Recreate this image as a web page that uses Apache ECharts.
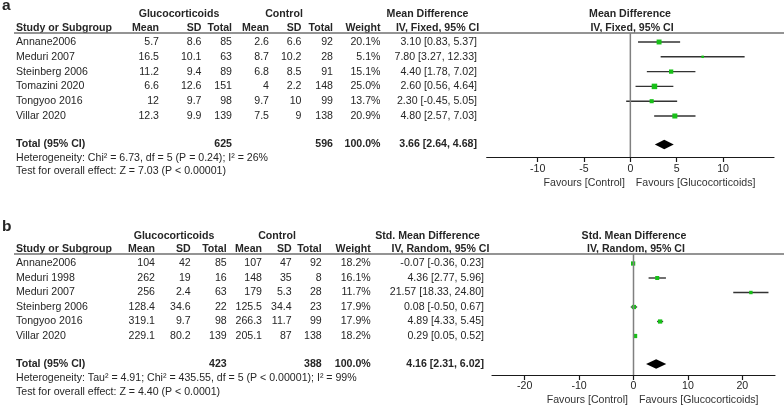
<!DOCTYPE html>
<html><head><meta charset="utf-8">
<script src="https://cdn.jsdelivr.net/npm/echarts@6/dist/echarts.min.js"></script>
<style>html,body{margin:0;padding:0;background:#fff}#c{width:784px;height:405px}</style>
</head><body><div id="c"></div>
<script>
// ================= DATA: panel a =================
const studiesA  = ['Annane2006','Meduri 2007','Steinberg 2006','Tomazini 2020','Tongyoo 2016','Villar 2020'];
const gcMeanA   = [5.7, 16.5, 11.2, 6.6, 12, 12.3];
const gcSdA     = [8.6, 10.1, 9.4, 12.6, 9.7, 9.9];
const gcTotalA  = [85, 63, 89, 151, 98, 139];
const ctMeanA   = [2.6, 8.7, 6.8, 4, 9.7, 7.5];
const ctSdA     = [6.6, 10.2, 8.5, 2.2, 10, 9];
const ctTotalA  = [92, 28, 91, 148, 99, 138];
const weightA   = [20.1, 5.1, 15.1, 25.0, 13.7, 20.9];
const estA      = [3.10, 7.80, 4.40, 2.60, 2.30, 4.80];
const loA       = [0.83, 3.27, 1.78, 0.56, -0.45, 2.57];
const hiA       = [5.37, 12.33, 7.02, 4.64, 5.05, 7.03];
const totalsA   = [625, 596, 100.0];          // gc total, control total, weight
const pooledA   = [3.66, 2.64, 4.68];         // est, lo, hi
const ticksA    = [-10, -5, 0, 5, 10];
const notesA    = ['Heterogeneity: Chi\u00B2 = 6.73, df = 5 (P = 0.24); I\u00B2 = 26%',
                   'Test for overall effect: Z = 7.03 (P < 0.00001)'];
const headA     = ['Mean Difference', 'IV, Fixed, 95% CI'];

// ================= DATA: panel b =================
const studiesB  = ['Annane2006','Meduri 1998','Meduri 2007','Steinberg 2006','Tongyoo 2016','Villar 2020'];
const gcMeanB   = [104, 262, 256, 128.4, 319.1, 229.1];
const gcSdB     = [42, 19, 2.4, 34.6, 9.7, 80.2];
const gcTotalB  = [85, 16, 63, 22, 98, 139];
const ctMeanB   = [107, 148, 179, 125.5, 266.3, 205.1];
const ctSdB     = [47, 35, 5.3, 34.4, 11.7, 87];
const ctTotalB  = [92, 8, 28, 23, 99, 138];
const weightB   = [18.2, 16.1, 11.7, 17.9, 17.9, 18.2];
const estB      = [-0.07, 4.36, 21.57, 0.08, 4.89, 0.29];
const loB       = [-0.36, 2.77, 18.33, -0.50, 4.33, 0.05];
const hiB       = [0.23, 5.96, 24.80, 0.67, 5.45, 0.52];
const totalsB   = [423, 388, 100.0];
const pooledB   = [4.16, 2.31, 6.02];
const ticksB    = [-20, -10, 0, 10, 20];
const notesB    = ['Heterogeneity: Tau\u00B2 = 4.91; Chi\u00B2 = 435.55, df = 5 (P < 0.00001); I\u00B2 = 99%',
                   'Test for overall effect: Z = 4.40 (P < 0.0001)'];
const headB     = ['Std. Mean Difference', 'IV, Random, 95% CI'];

// ================= LAYOUT / STYLE =================
const FONT = "'Liberation Sans', Arial, Helvetica, sans-serif";
const FS = 10.6;
const TXT = '#262626';
const GREEN = '#18c018';

const LAYOUT_A = {letter:'a', row0:42, rowH:14.8, letterY:6, h1Y:14, h2Y:28, lineY:33, totalY:144.5, hetY:158, testY:171.5,
  axisY:157, favY:183, labelMargin:7, plotLeft:486.7, plotWidth:287.3, xMin:-15.5, xMax:15.5, k:1.1, lineX0:14,
  cols:{name:16, m1:159, s1:201.5, t1:232, m2:269, s2:301.5, t2:333, w:380.5, est:477},
  h1:{gc:179, ct:284, est:427.5, plot:630}, h2:{est:437.5, plot:632}};
const LAYOUT_B = {letter:'b', row0:263.5, rowH:14.5, letterY:227, h1Y:236, h2Y:249.5, lineY:254, totalY:364, hetY:378, testY:392,
  axisY:375, favY:400, labelMargin:6, plotLeft:492, plotWidth:283, xMin:-26, xMax:26, k:1.0, lineX0:14,
  cols:{name:16, m1:155, s1:190.7, t1:226.7, m2:262, s2:291.7, t2:321.7, w:370.7, est:484},
  h1:{gc:174, ct:277, est:427.6, plot:634}, h2:{est:440.5, plot:636}};

const grids = [], xAxes = [], yAxes = [], series = [];

function panel(D, L, gi) {
  const toV = px => (px - L.row0) / L.rowH;
  const texts = [];
  const T = (x, v, t, a, bold, size) => texts.push({x, v, t: String(t), a: a || 'right', bold: !!bold, size: size || FS});
  const C = L.cols;
  // letter
  T(2, toV(L.letterY), L.letter, 'left', true, 15.5);
  // header row 1
  T(L.h1.gc, toV(L.h1Y), 'Glucocorticoids', 'center', true);
  T(L.h1.ct, toV(L.h1Y), 'Control', 'center', true);
  T(L.h1.est, toV(L.h1Y), D.head[0], 'center', true);
  T(L.h1.plot, toV(L.h1Y), D.head[0], 'center', true);
  // header row 2
  const v2 = toV(L.h2Y);
  T(C.name, v2, 'Study or Subgroup', 'left', true);
  T(C.m1, v2, 'Mean', 'right', true); T(C.s1, v2, 'SD', 'right', true); T(C.t1, v2, 'Total', 'right', true);
  T(C.m2, v2, 'Mean', 'right', true); T(C.s2, v2, 'SD', 'right', true); T(C.t2, v2, 'Total', 'right', true);
  T(C.w, v2, 'Weight', 'right', true);
  T(L.h2.est, v2, D.head[1], 'center', true);
  T(L.h2.plot, v2, D.head[1], 'center', true);
  // study rows
  D.studies.forEach((s, i) => {
    T(C.name, i, s, 'left');
    T(C.m1, i, D.gcMean[i]); T(C.s1, i, D.gcSd[i]); T(C.t1, i, D.gcTotal[i]);
    T(C.m2, i, D.ctMean[i]); T(C.s2, i, D.ctSd[i]); T(C.t2, i, D.ctTotal[i]);
    T(C.w, i, D.weight[i].toFixed(1) + '%');
    T(C.est, i, D.est[i].toFixed(2) + ' [' + D.lo[i].toFixed(2) + ', ' + D.hi[i].toFixed(2) + ']');
  });
  // total
  const vt = toV(L.totalY);
  T(C.name, vt, 'Total (95% CI)', 'left', true);
  T(C.t1, vt, D.totals[0], 'right', true);
  T(C.t2, vt, D.totals[1], 'right', true);
  T(C.w, vt, D.totals[2].toFixed(1) + '%', 'right', true);
  T(C.est, vt, D.pooled[0].toFixed(2) + ' [' + D.pooled[1].toFixed(2) + ', ' + D.pooled[2].toFixed(2) + ']', 'right', true);
  T(C.name, toV(L.hetY), D.notes[0], 'left');
  T(C.name, toV(L.testY), D.notes[1], 'left');

  // grids & axes
  grids.push({left: 0, top: 0, width: 784, height: 405});
  grids.push({left: L.plotLeft, top: L.lineY, width: L.plotWidth, height: L.axisY - L.lineY});
  xAxes.push({gridIndex: gi, type: 'value', min: 0, max: 784, show: false});
  yAxes.push({gridIndex: gi, type: 'value', inverse: true, min: toV(0), max: toV(405), show: false});
  xAxes.push({gridIndex: gi + 1, type: 'value', min: L.xMin, max: L.xMax, position: 'bottom',
    axisLine: {show: true, onZero: false, lineStyle: {color: '#1a1a1a', width: 1.2}},
    axisTick: {show: true, customValues: D.ticks, length: 5, lineStyle: {color: '#1a1a1a', width: 1.2}},
    axisLabel: {show: true, customValues: D.ticks, color: TXT, fontSize: FS, fontFamily: FONT, margin: L.labelMargin},
    splitLine: {show: false}});
  yAxes.push({gridIndex: gi + 1, type: 'value', inverse: true, min: toV(L.lineY), max: toV(L.axisY), show: false});

  // text series
  series.push({type: 'custom', xAxisIndex: gi, yAxisIndex: gi, silent: true, clip: false,
    data: texts.map(o => [o.x, o.v]),
    renderItem: (params, api) => {
      const o = texts[params.dataIndex];
      const p = api.coord([o.x, o.v]);
      return {type: 'text', x: p[0], y: p[1], style: {text: o.t, align: o.a, verticalAlign: 'middle',
        fontSize: o.size, fontWeight: o.bold ? 'bold' : 'normal', fontFamily: FONT, fill: TXT}};
    }});
  // header underline
  series.push({type: 'line', xAxisIndex: gi, yAxisIndex: gi, silent: true, symbol: 'none',
    data: [[L.lineX0, toV(L.lineY)], [784, toV(L.lineY)]], lineStyle: {color: '#707070', width: 1.5}});
  // zero line
  series.push({type: 'line', xAxisIndex: gi + 1, yAxisIndex: gi + 1, silent: true, symbol: 'none',
    data: [[0, toV(L.lineY)], [0, toV(L.axisY)]], lineStyle: {color: '#808080', width: 1.5}});
  // study CIs and squares
  series.push({type: 'custom', xAxisIndex: gi + 1, yAxisIndex: gi + 1, silent: true, clip: false,
    encode: {x: [0, 2, 3], y: 1},
    data: D.est.map((e, i) => [e, i, D.lo[i], D.hi[i], D.weight[i]]),
    renderItem: (params, api) => {
      const row = api.value(1);
      const pc = api.coord([api.value(0), row]);
      const pl = api.coord([api.value(2), row]);
      const ph = api.coord([api.value(3), row]);
      const s = L.k * Math.sqrt(api.value(4));
      return {type: 'group', children: [
        {type: 'line', shape: {x1: pl[0], y1: pc[1], x2: ph[0], y2: pc[1]}, style: {stroke: '#333', lineWidth: 1.4}},
        {type: 'rect', shape: {x: pc[0] - s / 2, y: pc[1] - s / 2, width: s, height: s}, style: {fill: GREEN}}
      ]};
    }});
  // pooled diamond
  series.push({type: 'custom', xAxisIndex: gi + 1, yAxisIndex: gi + 1, silent: true, clip: false,
    encode: {x: [0, 2, 3], y: 1},
    data: [[D.pooled[0], vt, D.pooled[1], D.pooled[2]]],
    renderItem: (params, api) => {
      const row = api.value(1);
      const pc = api.coord([api.value(0), row]);
      const pl = api.coord([api.value(2), row]);
      const ph = api.coord([api.value(3), row]);
      const h = 4.8;
      return {type: 'polygon', shape: {points: [[pl[0], pc[1]], [pc[0], pc[1] - h], [ph[0], pc[1]], [pc[0], pc[1] + h]]},
        style: {fill: '#000'}};
    }});
  // favours labels
  const fav = ['Favours [Control]', 'Favours [Glucocorticoids]'];
  series.push({type: 'custom', xAxisIndex: gi + 1, yAxisIndex: gi + 1, silent: true, clip: false,
    data: [[0, toV(L.favY)], [0, toV(L.favY)]],
    renderItem: (params, api) => {
      const p = api.coord([api.value(0), api.value(1)]);
      const left = params.dataIndex === 0;
      return {type: 'text', x: p[0] + (left ? -5.5 : 5.5), y: p[1], style: {text: fav[params.dataIndex],
        align: left ? 'right' : 'left', verticalAlign: 'middle', fontSize: FS, fontFamily: FONT, fill: '#333'}};
    }});
}

panel({studies: studiesA, gcMean: gcMeanA, gcSd: gcSdA, gcTotal: gcTotalA, ctMean: ctMeanA, ctSd: ctSdA, ctTotal: ctTotalA,
  weight: weightA, est: estA, lo: loA, hi: hiA, totals: totalsA, pooled: pooledA, ticks: ticksA, notes: notesA, head: headA}, LAYOUT_A, 0);
panel({studies: studiesB, gcMean: gcMeanB, gcSd: gcSdB, gcTotal: gcTotalB, ctMean: ctMeanB, ctSd: ctSdB, ctTotal: ctTotalB,
  weight: weightB, est: estB, lo: loB, hi: hiB, totals: totalsB, pooled: pooledB, ticks: ticksB, notes: notesB, head: headB}, LAYOUT_B, 2);

const chart = echarts.init(document.getElementById('c'), null, {renderer: 'canvas'});
chart.setOption({animation: false, backgroundColor: '#fff', grid: grids, xAxis: xAxes, yAxis: yAxes, series: series});
</script></body></html>
